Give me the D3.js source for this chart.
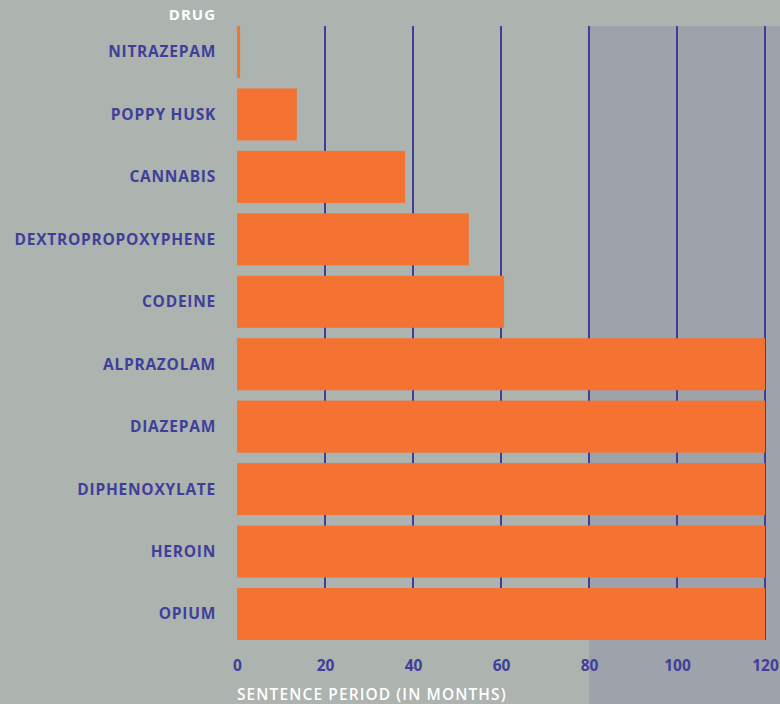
<!DOCTYPE html>
<html>
<head>
<meta charset="utf-8">
<script src="https://cdn.jsdelivr.net/npm/d3@7"></script>
<style>
  html, body { margin: 0; padding: 0; background: #adb3ae; }
  svg { display: block; }
  text { font-family: "Open Sans", "Noto Sans", sans-serif; }
</style>
</head>
<body>
<svg id="chart" width="780" height="704"></svg>
<script>
const drugs = ["NITRAZEPAM", "POPPY HUSK", "CANNABIS", "DEXTROPROPOXYPHENE", "CODEINE",
               "ALPRAZOLAM", "DIAZEPAM", "DIPHENOXYLATE", "HEROIN", "OPIUM"];
const months = [0.7, 13.6, 38.2, 52.7, 60.7, 120, 120, 120, 120, 120];
const tickValues = [0, 20, 40, 60, 80, 100, 120];
const shadeFrom = 80;

const W = 780, H = 704;
const svg = d3.select("#chart");
const navy = "#3f3f9b", orange = "#f47333";

const x = d3.scaleLinear().domain([0, 120]).range([237, 765]);
const y = d3.scaleBand().domain(drugs).range([26, 640]).paddingInner(0.167).paddingOuter(0);

svg.append("rect").attr("width", W).attr("height", H).attr("fill", "#adb3ae");
// shaded region
svg.append("rect")
  .attr("x", x(shadeFrom)).attr("y", 26)
  .attr("width", W - x(shadeFrom)).attr("height", H - 26)
  .attr("fill", "#9ea2ab");

// gridlines
svg.append("g").selectAll("line").data(tickValues.filter(d => d > 0)).join("line")
  .attr("x1", d => x(d)).attr("x2", d => x(d))
  .attr("y1", 26).attr("y2", 640)
  .attr("stroke", navy).attr("stroke-width", 2);

// bars
svg.append("g").selectAll("rect").data(drugs).join("rect")
  .attr("x", x(0))
  .attr("y", d => y(d))
  .attr("width", (d, i) => x(months[i]) - x(0))
  .attr("height", y.bandwidth())
  .attr("fill", orange);

// category labels
svg.append("g").selectAll("text").data(drugs).join("text")
  .attr("x", 216).attr("y", d => y(d) + y.bandwidth() / 2)
  .attr("dy", "0.35em")
  .attr("text-anchor", "end")
  .attr("fill", navy)
  .attr("font-size", 15.5).attr("font-weight", 700)
  .attr("letter-spacing", "0.75px")
  .text(d => d);

svg.append("text")
  .attr("x", 216).attr("y", 20)
  .attr("text-anchor", "end")
  .attr("fill", "#ffffff")
  .attr("font-size", 15).attr("font-weight", 700)
  .attr("letter-spacing", "1px")
  .text("DRUG");

// x axis
const xAxis = d3.axisBottom(x).tickValues(tickValues).tickSize(0).tickPadding(0);
const gx = svg.append("g").attr("transform", "translate(0,660)").call(xAxis);
gx.select(".domain").remove();
gx.selectAll("text")
  .attr("fill", navy)
  .attr("font-size", 15.5).attr("font-weight", 700)
  .attr("font-family", "'Open Sans', 'Noto Sans', sans-serif")
  .attr("dy", "0.71em");

svg.append("text")
  .attr("x", 237).attr("y", 700)
  .attr("fill", "#ffffff")
  .attr("font-size", 15.5).attr("font-weight", 600)
  .attr("letter-spacing", "1.1px")
  .text("SENTENCE PERIOD (IN MONTHS)");
</script>
</body>
</html>
